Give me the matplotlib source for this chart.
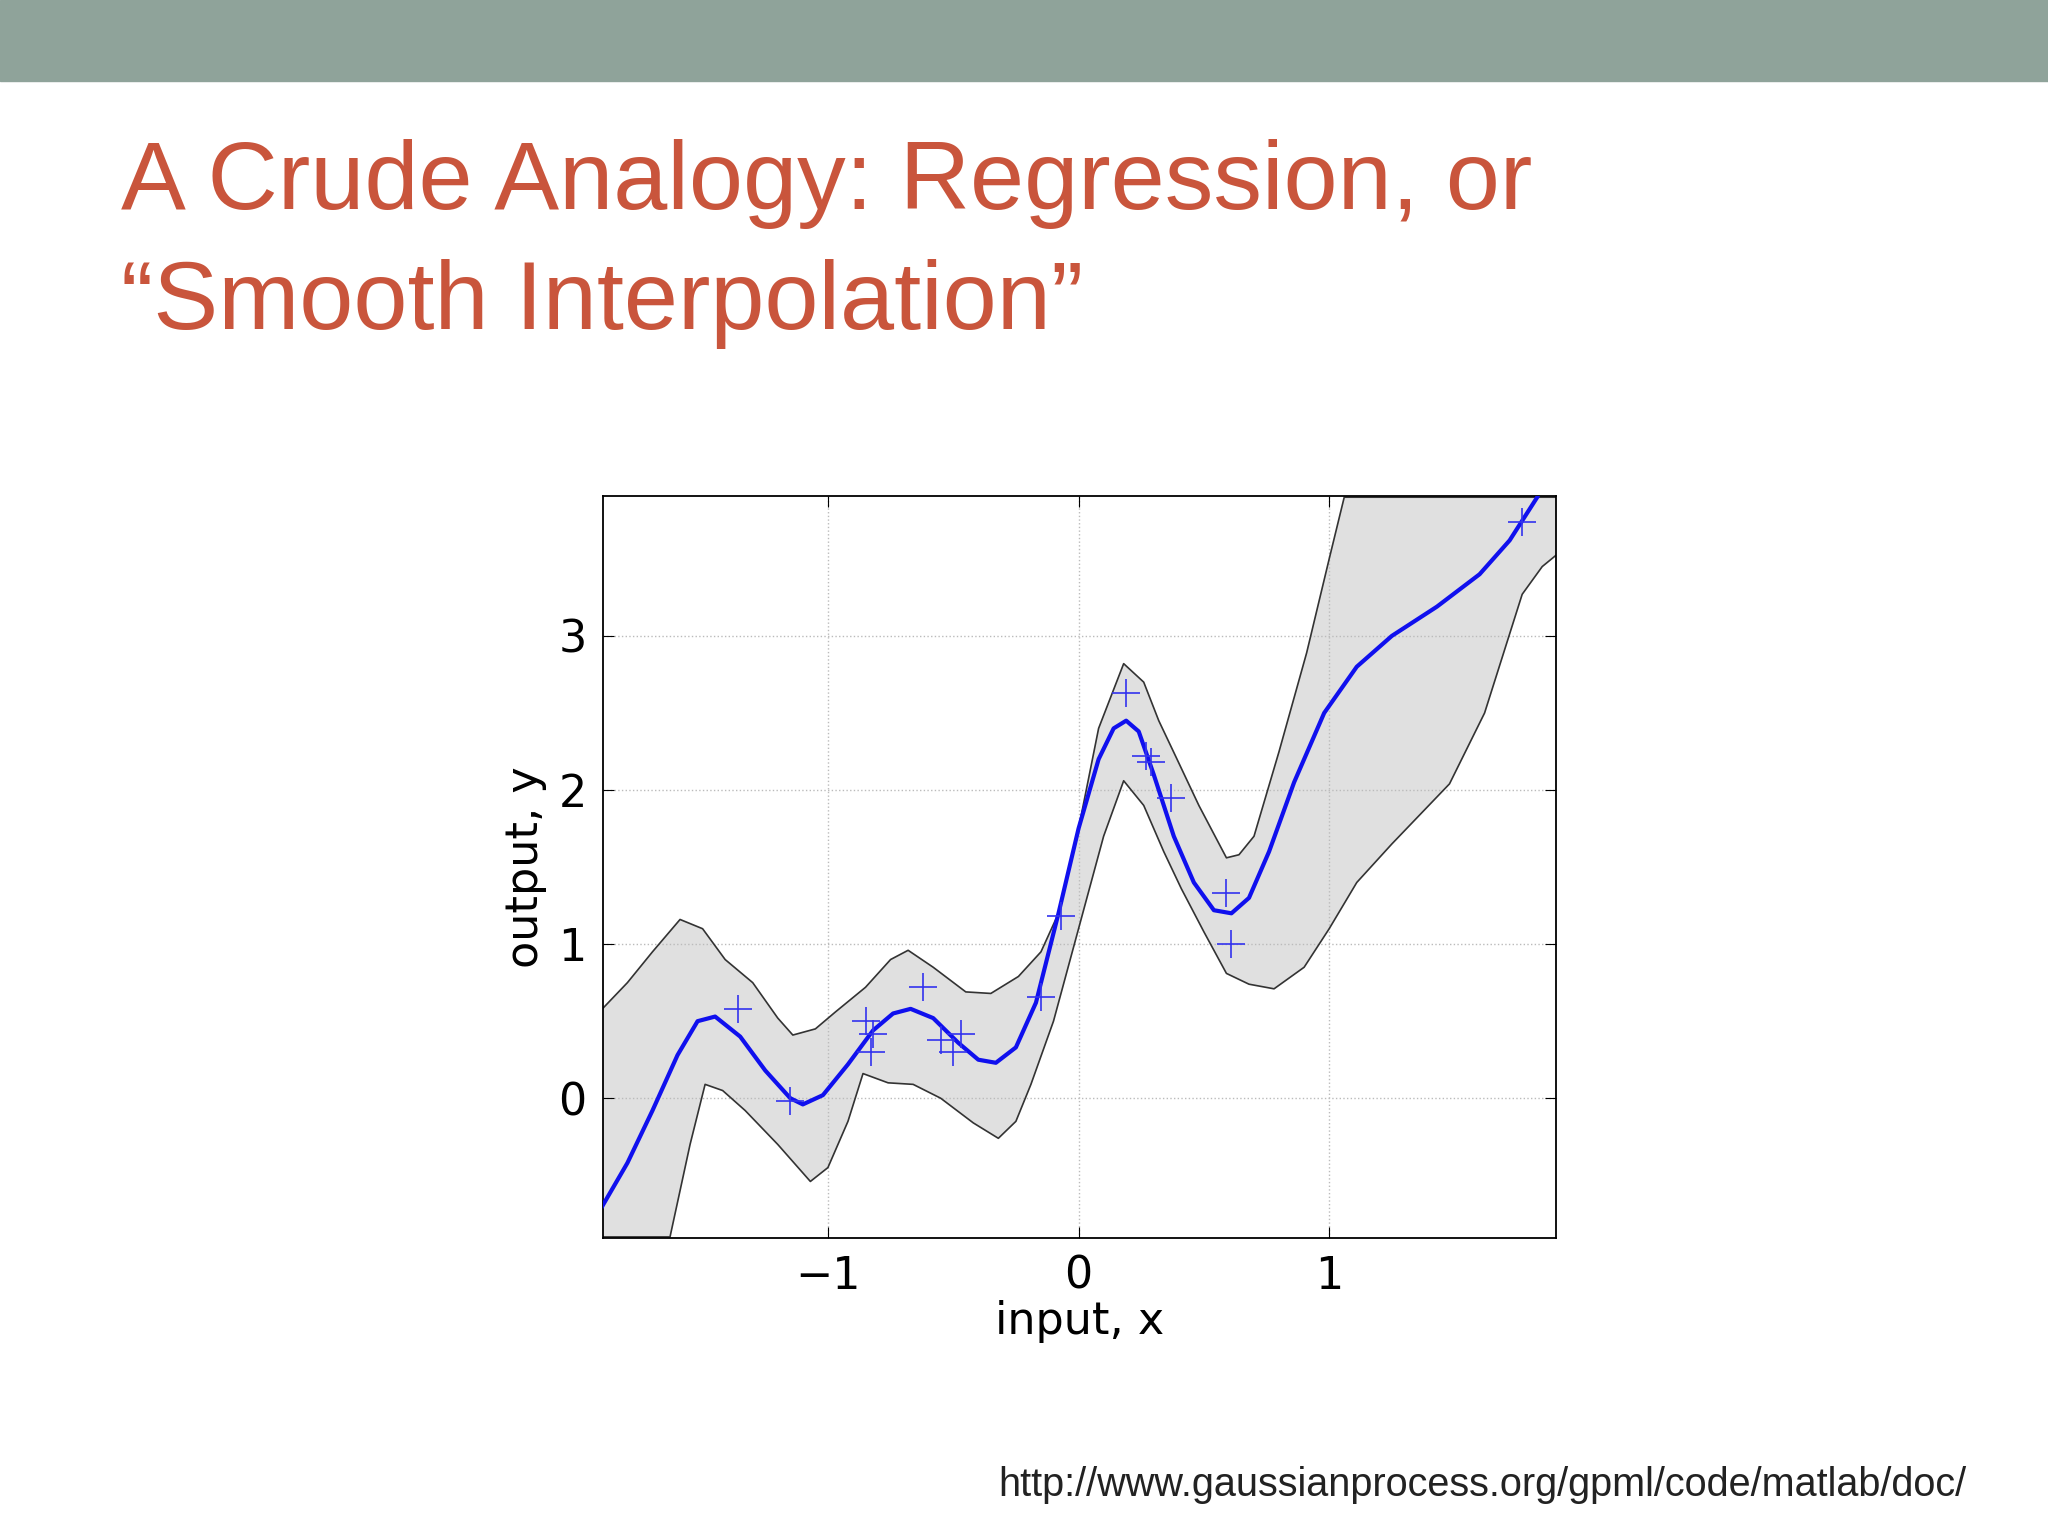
import matplotlib.pyplot as plt
import matplotlib.patches as mpatches

# mean prediction
mean_x = [-1.90, -1.80, -1.70, -1.60, -1.52, -1.45, -1.35, -1.25, -1.15, -1.10, -1.02, -0.92, -0.82, -0.74, -0.67, -0.58, -0.48, -0.40, -0.33, -0.25, -0.17, -0.08, 0.00, 0.08, 0.14, 0.19, 0.24, 0.30, 0.38, 0.46, 0.54, 0.61, 0.68, 0.76, 0.86, 0.98, 1.11, 1.25, 1.43, 1.60, 1.72, 1.83]
mean_y = [-0.70, -0.42, -0.08, 0.28, 0.50, 0.53, 0.40, 0.18, 0.00, -0.04, 0.02, 0.22, 0.44, 0.55, 0.58, 0.52, 0.36, 0.25, 0.23, 0.33, 0.62, 1.20, 1.75, 2.20, 2.40, 2.45, 2.38, 2.10, 1.70, 1.40, 1.22, 1.20, 1.30, 1.60, 2.05, 2.50, 2.80, 3.00, 3.19, 3.40, 3.62, 3.90]

# upper and lower confidence band
up_x = [-1.90, -1.80, -1.70, -1.59, -1.50, -1.41, -1.30, -1.20, -1.14, -1.05, -0.97, -0.85, -0.75, -0.68, -0.58, -0.45, -0.35, -0.24, -0.15, -0.08, 0.00, 0.08, 0.18, 0.26, 0.32, 0.39, 0.48, 0.59, 0.64, 0.70, 0.80, 0.91, 1.00, 1.06, 1.91]
up_y = [0.58, 0.75, 0.95, 1.16, 1.10, 0.90, 0.75, 0.52, 0.41, 0.45, 0.56, 0.72, 0.90, 0.96, 0.85, 0.69, 0.68, 0.79, 0.95, 1.20, 1.75, 2.40, 2.82, 2.70, 2.45, 2.21, 1.90, 1.56, 1.58, 1.70, 2.25, 2.89, 3.50, 3.90, 3.90]
lo_x = [-1.90, -1.63, -1.55, -1.49, -1.42, -1.33, -1.20, -1.07, -1.00, -0.92, -0.86, -0.76, -0.66, -0.55, -0.42, -0.32, -0.25, -0.19, -0.10, 0.00, 0.10, 0.18, 0.26, 0.34, 0.41, 0.50, 0.59, 0.68, 0.78, 0.90, 1.00, 1.11, 1.25, 1.48, 1.62, 1.77, 1.85, 1.91]
lo_y = [-0.90, -0.90, -0.30, 0.09, 0.05, -0.08, -0.30, -0.54, -0.45, -0.15, 0.16, 0.10, 0.09, 0.00, -0.16, -0.26, -0.15, 0.09, 0.50, 1.10, 1.70, 2.06, 1.90, 1.60, 1.36, 1.08, 0.81, 0.74, 0.71, 0.85, 1.10, 1.40, 1.65, 2.04, 2.50, 3.27, 3.45, 3.53]

# training observations
obs_x = [-1.36, -1.15, -0.85, -0.82, -0.83, -0.62, -0.55, -0.50, -0.47, -0.15, -0.07, 0.19, 0.27, 0.29, 0.37, 0.59, 0.61, 1.77]
obs_y = [0.58, -0.02, 0.50, 0.42, 0.30, 0.72, 0.38, 0.30, 0.42, 0.66, 1.18, 2.63, 2.22, 2.18, 1.95, 1.33, 1.00, 3.74]

fig = plt.figure(figsize=(20.48, 15.36), dpi=100)
fig.patches.append(mpatches.Rectangle((0, 0.947), 1, 0.053, transform=fig.transFigure,
                                      color='#8fa39a', zorder=0))
red = '#c9553c'
fig.text(0.059, 0.864, 'A Crude Analogy: Regression, or', fontsize=70, color=red,
         family='Liberation Sans')
fig.text(0.059, 0.786, '\u201cSmooth Interpolation\u201d', fontsize=70, color=red,
         family='Liberation Sans')
fig.text(0.96, 0.026, 'http://www.gaussianprocess.org/gpml/code/matlab/doc/', fontsize=28.5,
         ha='right', family='Liberation Sans', color='#222222')

ax = fig.add_axes([0.2946, 0.194, 0.4653, 0.483])
ax.fill(up_x + lo_x[::-1], up_y + lo_y[::-1], color='#e0e0e0', lw=0, zorder=1)
ax.plot(up_x, up_y, color='#333333', lw=1.2, zorder=2)
ax.plot(lo_x, lo_y, color='#333333', lw=1.2, zorder=2)
ax.plot(mean_x, mean_y, color='#1010ee', lw=3, zorder=3)
ax.plot(obs_x, obs_y, '+', color='#3333ee', ms=20, mew=1.2, zorder=4)

ax.set_xlim(-1.896, 1.906)
ax.set_ylim(-0.907, 3.907)
ax.set_xticks([-1, 0, 1])
ax.set_xticklabels(['\u22121', '0', '1'])
ax.set_yticks([0, 1, 2, 3])
ax.grid(True, linestyle=':', color='#bbbbbb', lw=1)
ax.tick_params(direction='in', top=True, right=True, length=8, labelsize=32, pad=12)
ax.set_xlabel('input, x', fontsize=32, labelpad=2)
ax.set_ylabel('output, y', fontsize=32, labelpad=8)
for s in ax.spines.values():
    s.set_linewidth(1.3)

fig.savefig('out.png')
